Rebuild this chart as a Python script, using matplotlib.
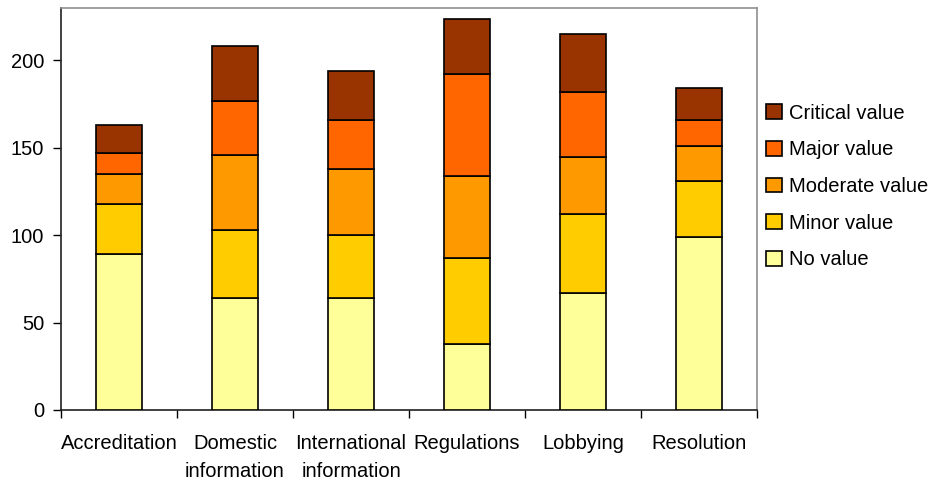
import numpy as np
import matplotlib
matplotlib.use("Agg")
import matplotlib.pyplot as plt

plt.rcParams["font.family"] = ["Liberation Sans", "DejaVu Sans"]

categories = ["Accreditation", "Domestic\ninformation", "International\ninformation",
              "Regulations", "Lobbying", "Resolution"]
series = ["No value", "Minor value", "Moderate value", "Major value", "Critical value"]
no_value = [89, 64, 64, 38, 67, 99]
minor_value = [29, 39, 36, 49, 45, 32]
moderate_value = [17, 43, 38, 47, 33, 20]
major_value = [12, 31, 28, 58, 37, 15]
critical_value = [16, 31, 28, 32, 33, 18]
colors = ["#FFFF99", "#FFCC00", "#FF9900", "#FF6600", "#993300"]

fig = plt.figure(figsize=(9.37, 4.86), dpi=100)
ax = fig.add_axes([0.0651, 0.1564, 0.7428, 0.8271])

x = np.arange(len(categories)) + 0.5
bottom = np.zeros(len(categories))
handles = []
for name, vals, c in zip(series, [no_value, minor_value, moderate_value, major_value, critical_value], colors):
    h = ax.bar(x, vals, 0.4, bottom=bottom, color=c, edgecolor="black", linewidth=1.2,
               label=name, zorder=3)
    handles.append(h)
    bottom += np.array(vals)

ax.set_xlim(0, len(categories))
ax.set_ylim(0, 230)
ax.set_yticks([0, 50, 100, 150, 200])
ax.set_xticks(np.arange(len(categories) + 1))
ax.set_xticklabels([])
ax.set_xticks(x, minor=True)
ax.set_xticklabels(categories, minor=True, fontsize=14.5, linespacing=1.65, va="top")
ax.tick_params(axis="x", which="minor", length=0, pad=17)
ax.tick_params(axis="x", which="major", direction="out", length=6, width=1)
ax.tick_params(axis="y", direction="out", length=6, width=1, labelsize=14.5, pad=6)

for s in ["top", "right"]:
    ax.spines[s].set_color("#909090")
    ax.spines[s].set_linewidth(1.2)
for s in ["left", "bottom"]:
    ax.spines[s].set_color("#202020")
    ax.spines[s].set_linewidth(1.2)

ax.legend(handles[::-1], series[::-1], loc="upper left", bbox_to_anchor=(0.818, 0.787),
          bbox_transform=fig.transFigure, frameon=False, fontsize=14.5,
          handlelength=0.75, handleheight=0.75, handletextpad=0.35, labelspacing=0.88,
          borderaxespad=0, borderpad=0)

fig.savefig("out.png", dpi=100)
